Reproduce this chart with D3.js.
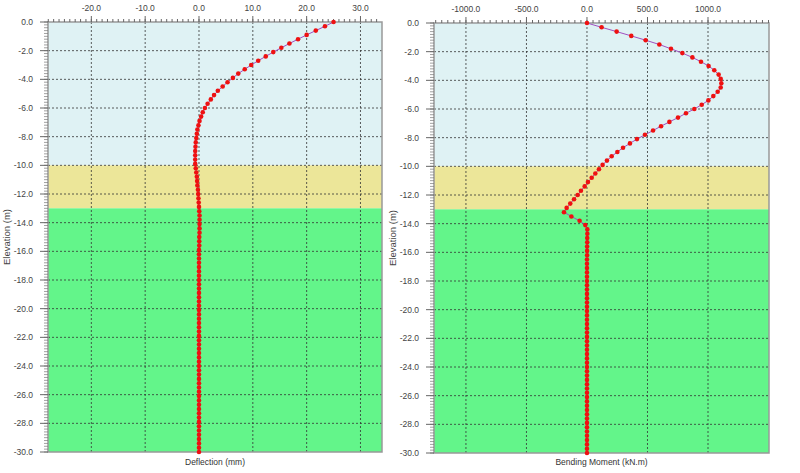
<!DOCTYPE html>
<html><head><meta charset="utf-8">
<script src="https://cdn.jsdelivr.net/npm/d3@7"></script>
<style>body{margin:0;background:#fff}text{font-family:"Liberation Sans",Arial,sans-serif}</style>
</head><body><svg id="c" width="800" height="473"></svg>
<script>
// elevation step 0.3 m from 0 to -30
const elevations = d3.range(0, 101).map(i => +(-0.3 * i).toFixed(1));
const deflection = [25.0,23.4,21.7,20.0,18.4,16.8,15.3,13.8,12.4,11.0,9.7,8.5,7.3,6.3,5.3,4.4,3.5,2.8,2.2,1.6,1.1,0.7,0.4,0.1,-0.1,-0.3,-0.4,-0.5,-0.6,-0.65,-0.7,-0.7,-0.7,-0.7,-0.6,-0.5,-0.4,-0.35,-0.3,-0.2,-0.15,-0.1,-0.05,0.0,0.05,0.1,0.1,0.1,0.1,0.1,
0.05,0.05,0.05,0.0,0.0,0.0,0.0,0.0,0.0,0.0,0.0,0.0,0.0,0.0,0.0,0.0,0.0,0.0,0.0,0.0,0.0,0.0,0.0,0.0,0.0,0.0,0.0,0.0,0.0,0.0,0.0,0.0,0.0,0.0,0.0,0.0,0.0,0.0,0.0,0.0,0.0,0.0,0.0,0.0,0.0,0.0,0.0,0.0,0.0,0.0,0.0];
const moment = [0,121,245,366,485,598,694,788,871,942,1005,1052,1088,1105,1110,1105,1080,1044,1003,948,887,818,752,681,612,546,479,413,355,298,251,204,165,129,99,69,39,8,-19,-50,-77,-107,-138,-168,-190,-129,-61,-14,3,3,
2,2,1,1,1,0,0,0,0,0,0,0,0,0,0,0,0,0,0,0,0,0,0,0,0,0,0,0,0,0,0,0,0,0,0,0,0,0,0,0,0,0,0,0,0,0,0,0,0,0,0];
const layers = [{top:0,bot:-10,color:"#dff2f4"},{top:-10,bot:-13,color:"#ece699"},{top:-13,bot:-30,color:"#63f58a"}];
const defTicks = [-20,-10,0,10,20,30];
const momTicks = [-1000,-500,0,500,1000];
const elevTicks = d3.range(0,-31,-2);

const svg = d3.select("#c");
function panel(o){
  const g = svg.append("g");
  const x = d3.scaleLinear().domain(o.xd).range([o.x0,o.x1]);
  const y = d3.scaleLinear().domain([0,-30]).range([o.y0,o.y1]);
  layers.forEach(l=>g.append("rect").attr("x",o.x0).attr("width",o.x1-o.x0)
    .attr("y",y(l.top)).attr("height",y(l.bot)-y(l.top)).attr("fill",l.color));
  // grid
  o.ticks.forEach(t=>g.append("line").attr("x1",x(t)).attr("x2",x(t)).attr("y1",o.y0).attr("y2",o.y1)
    .attr("stroke","#333").attr("stroke-dasharray","2,2").attr("stroke-width",0.8));
  elevTicks.slice(1,-1).forEach(t=>g.append("line").attr("x1",o.x0).attr("x2",o.x1).attr("y1",y(t)).attr("y2",y(t))
    .attr("stroke","#333").attr("stroke-dasharray","2,2").attr("stroke-width",0.8));
  // frame
  g.append("rect").attr("x",o.x0).attr("y",o.y0).attr("width",o.x1-o.x0).attr("height",o.y1-o.y0)
    .attr("fill","none").attr("stroke","#999").attr("stroke-width",1.5);
  // top axis
  const minorX = d3.range(Math.ceil(o.xd[0]/o.minor)*o.minor, o.xd[1], o.minor);
  minorX.forEach(t=>g.append("line").attr("x1",x(t)).attr("x2",x(t)).attr("y1",o.y0).attr("y2",o.y0-3).attr("stroke","#666"));
  o.ticks.forEach(t=>{
    g.append("line").attr("x1",x(t)).attr("x2",x(t)).attr("y1",o.y0).attr("y2",o.y0-6).attr("stroke","#666");
    g.append("text").attr("x",x(t)).attr("y",o.y0-11).attr("text-anchor","middle").attr("font-size",8.5).attr("fill","#444").text(t.toFixed(1));
  });
  // left axis
  d3.range(0,-30.01,-0.2).forEach(t=>g.append("line").attr("x1",o.x0).attr("x2",o.x0-4).attr("y1",y(t)).attr("y2",y(t)).attr("stroke","#777").attr("stroke-width",0.7));
  elevTicks.forEach(t=>{
    g.append("line").attr("x1",o.x0).attr("x2",o.x0-8).attr("y1",y(t)).attr("y2",y(t)).attr("stroke","#666");
    g.append("text").attr("x",o.x0-15).attr("y",y(t)+3).attr("text-anchor","end").attr("font-size",8.5).attr("fill","#444").text(t.toFixed(1));
  });
  g.append("text").attr("transform",`translate(${o.x0-38},${(o.y0+o.y1)/2}) rotate(-90)`).attr("text-anchor","middle")
    .attr("font-size",9.5).attr("fill","#444").text("Elevation (m)");
  g.append("text").attr("x",(o.x0+o.x1)/2).attr("y",465).attr("text-anchor","middle").attr("font-size",8.5).attr("fill","#333").text(o.title);
  const pts = elevations.map((e,i)=>[o.vals[i],e]);
  g.append("path").datum(pts).attr("d",d3.line().x(d=>x(d[0])).y(d=>y(d[1])))
    .attr("fill","none").attr("stroke","#a050c0").attr("stroke-width",1);
  g.selectAll(null).data(pts).join("circle").attr("cx",d=>x(d[0])).attr("cy",d=>y(d[1])).attr("r",2.3).attr("fill","#ee1111");
}
panel({x0:48,x1:382,y0:22,y1:452,xd:[-28.05,34.0],ticks:defTicks,minor:1,vals:deflection,title:"Deflection (mm)"});
panel({x0:434,x1:769,y0:23,y1:453,xd:[-1264,1504],ticks:momTicks,minor:50,vals:moment,title:"Bending Moment (kN.m)"});
</script></body></html>
